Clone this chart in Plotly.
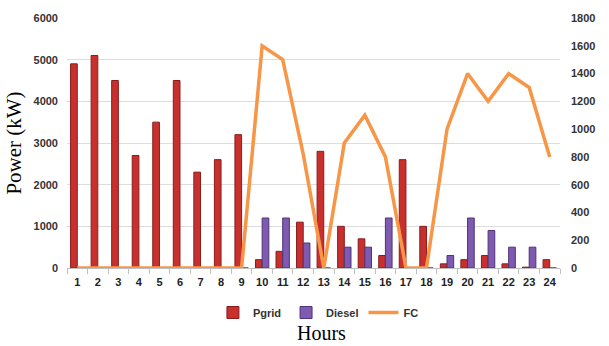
import plotly.graph_objects as go

hours = [str(h) for h in range(1, 25)]
pgrid = [4900, 5100, 4500, 2700, 3500, 4500, 2300, 2600, 3200, 200, 400, 1100,
         2800, 1000, 700, 300, 2600, 1000, 100, 200, 300, 100, 20, 200]
diesel = [0, 0, 0, 0, 0, 0, 0, 0, 0, 1200, 1200, 600,
          0, 500, 500, 1200, 0, 0, 300, 1200, 900, 500, 500, 0]
fc = [0, 0, 0, 0, 0, 0, 0, 0, 0, 1600, 1500, 820,
      0, 900, 1100, 800, 0, 0, 1000, 1400, 1200, 1400, 1300, 800]

tick_font = dict(family="Liberation Sans", size=11, color="#333333")

fig = go.Figure()
fig.add_trace(go.Bar(x=hours, y=pgrid, name="<b>Pgrid</b>",
                     marker=dict(color="#C8302E", line=dict(color="#8A1C1C", width=1))))
fig.add_trace(go.Bar(x=hours, y=diesel, name="<b>Diesel</b>",
                     marker=dict(color="#7E5AB0", line=dict(color="#4E3478", width=1))))
fig.add_trace(go.Scatter(x=hours, y=fc, name="<b>FC</b>", yaxis="y2", mode="lines",
                         line=dict(color="#F79646", width=3.5), cliponaxis=False))

fig.update_layout(
    width=609, height=346,
    margin=dict(l=67, r=49, t=18, b=78, autoexpand=False),
    paper_bgcolor="white", plot_bgcolor="white",
    barmode="group", bargap=0.35, bargroupgap=0,
    showlegend=True,
    legend=dict(orientation="h", x=0.51, xanchor="center", y=-0.12, yanchor="top",
                font=dict(family="Liberation Sans", size=11, color="#333333"),
                itemwidth=30, tracegroupgap=0, bgcolor="rgba(0,0,0,0)"),
    xaxis=dict(type="category", showline=True, linecolor="#BFBFBF", linewidth=1,
               ticks="outside", ticklen=5, tickcolor="#BFBFBF", tickson="boundaries",
               tickangle=0, automargin=False,
               tickfont=dict(family="Liberation Sans", size=11, color="#222222"),
               ticklabelstandoff=4),
    yaxis=dict(range=[0, 6000], dtick=1000, showgrid=True, gridcolor="#DDDDDD",
               zeroline=False, showline=False, tickfont=tick_font, automargin=False,
               tickprefix="<b>", ticksuffix="</b>", ticklabelstandoff=8,
               title=dict(text="Power (kW)", font=dict(family="Liberation Serif", size=21, color="black"),
                          standoff=6)),
    yaxis2=dict(range=[0, 1800], dtick=200, overlaying="y", side="right", showgrid=False,
                zeroline=False, showline=False, tickfont=tick_font, automargin=False,
                tickprefix="<b>", ticksuffix="</b>", ticklabelstandoff=10),
    annotations=[dict(text="Hours", xref="paper", yref="paper", x=0.517, y=-0.258,
                      xanchor="center", yanchor="middle", showarrow=False,
                      font=dict(family="Liberation Serif", size=20, color="black"))],
)
fig.update_xaxes(tickprefix="<b>", ticksuffix="</b>")

fig.write_html("out.html")
